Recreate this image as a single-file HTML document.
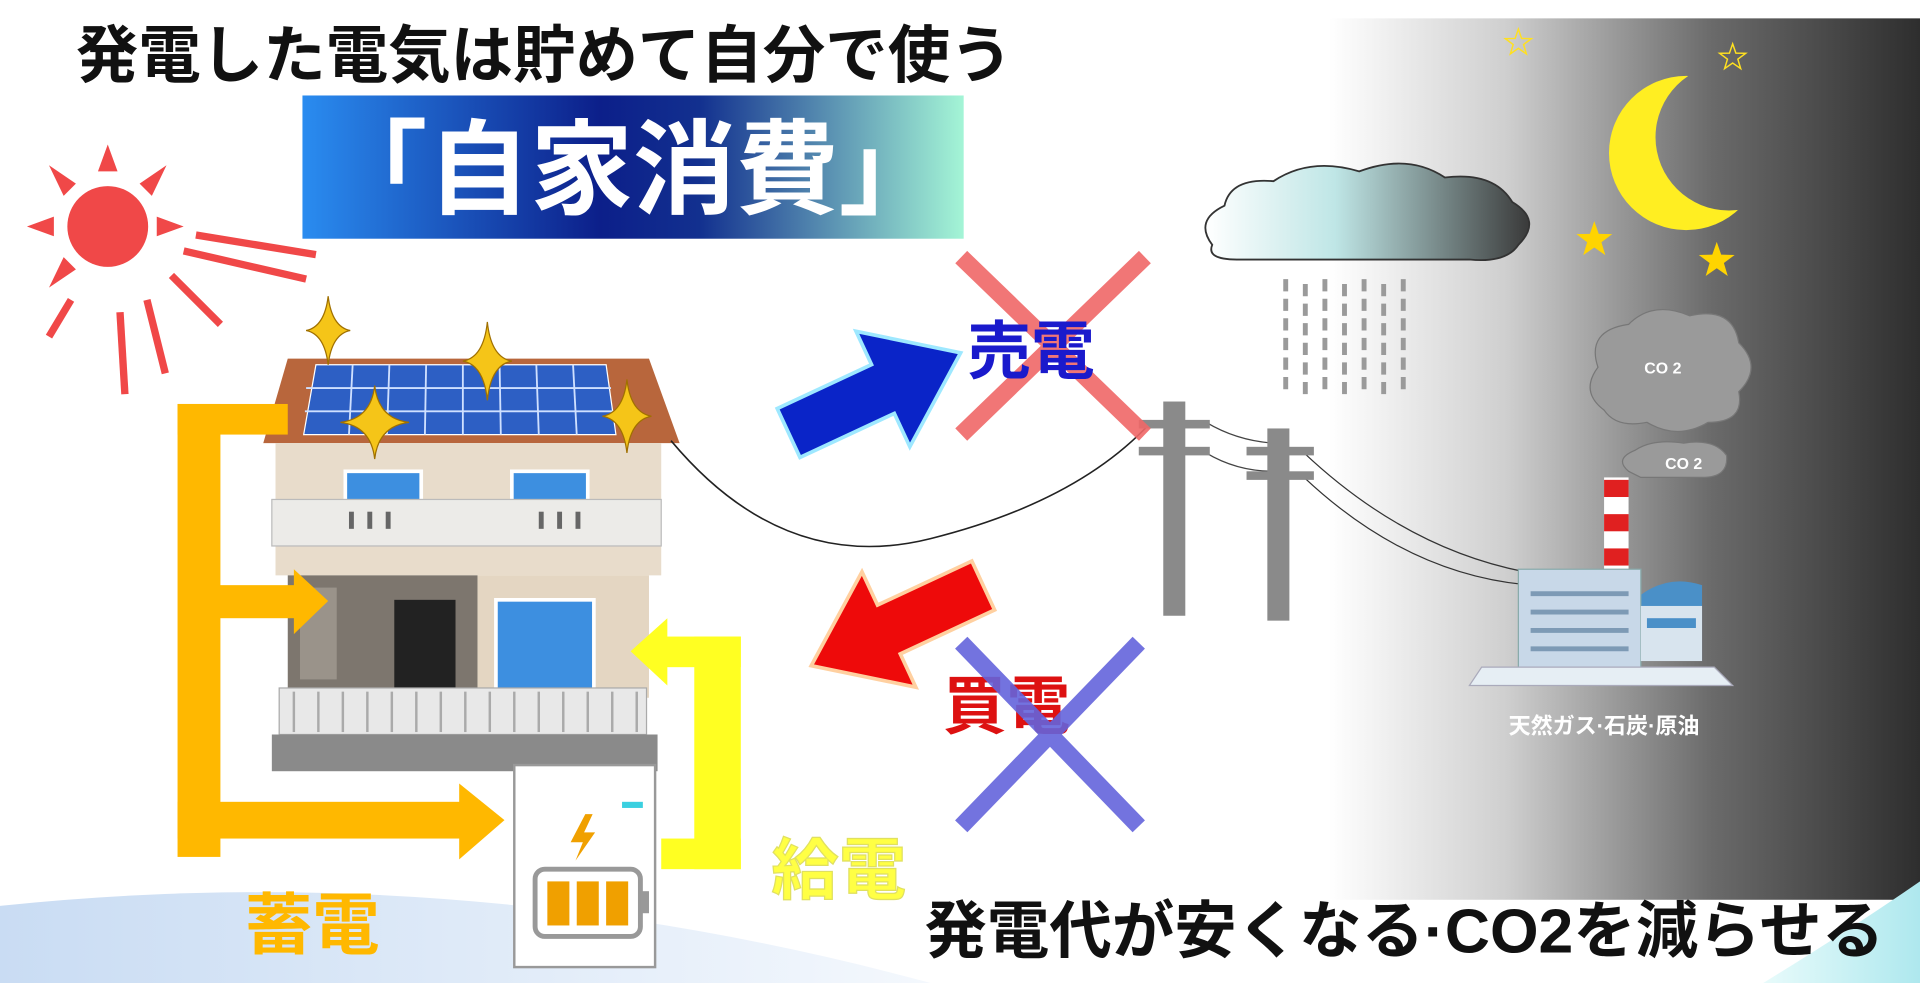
<!DOCTYPE html>
<html><head><meta charset="utf-8"><style>
html,body{margin:0;padding:0;background:#fff;width:1920px;height:983px;overflow:hidden}
svg{display:block}
text{font-family:"Liberation Sans","Noto Sans CJK JP",sans-serif;font-weight:bold}
</style></head><body>
<svg width="1920" height="983" viewBox="0 0 1568 803" preserveAspectRatio="none">
<defs>
<linearGradient id="night" x1="0" x2="1" y1="0" y2="0">
<stop offset="0" stop-color="#fff"/><stop offset="0.3" stop-color="#cfcfcf"/><stop offset="0.65" stop-color="#6a6a6a"/><stop offset="1" stop-color="#2e2e2e"/></linearGradient>
<linearGradient id="ban" x1="0" x2="1"><stop offset="0" stop-color="#2a8cf0"/><stop offset="0.45" stop-color="#0c1f8a"/><stop offset="0.6" stop-color="#12308f"/><stop offset="1" stop-color="#a4f5d6"/></linearGradient>
<linearGradient id="cloud" x1="0" x2="1"><stop offset="0" stop-color="#fff"/><stop offset="0.4" stop-color="#bfe6e6"/><stop offset="1" stop-color="#3a3a3a"/></linearGradient>
<linearGradient id="wave" x1="0" x2="1"><stop offset="0" stop-color="#c9dcf3"/><stop offset="1" stop-color="#f4f8fd"/></linearGradient>
<linearGradient id="wave2" x1="0" x2="1"><stop offset="0" stop-color="#e8fbfb"/><stop offset="1" stop-color="#aee8ee"/></linearGradient>
<mask id="moonm"><rect x="1280" y="40" width="200" height="180" fill="#fff"/><circle cx="1412" cy="112" r="60" fill="#000"/></mask>
</defs>
<rect x="1085" y="15" width="483" height="720" fill="url(#night)"/>
<path d="M0,740 Q380,700 760,803 L0,803Z" fill="url(#wave)"/>
<path d="M1440,803 Q1510,760 1568,720 L1568,803Z" fill="url(#wave2)"/>

<text x="62" y="63" font-size="51" fill="#111">発電した電気は貯めて自分で使う</text>
<rect x="247" y="78" width="540" height="117" fill="url(#ban)"/>
<text x="517" y="168" font-size="84" fill="#fff" text-anchor="middle">「自家消費」</text>

<!-- sun -->
<g stroke="#f04848" stroke-width="6" fill="#f04848">
<line x1="160" y1="192" x2="258" y2="208"/><line x1="150" y1="205" x2="250" y2="228"/>
<line x1="140" y1="225" x2="180" y2="265"/><line x1="120" y1="245" x2="135" y2="305"/>
<line x1="98" y1="255" x2="102" y2="322"/><line x1="58" y1="245" x2="40" y2="275"/>
</g>
<circle cx="88" cy="185" r="33" fill="#f04848"/>
<g fill="#f04848">
<polygon points="88,118 80,140 96,140"/><polygon points="22,185 44,177 44,193"/>
<polygon points="40,135 62,150 52,160"/><polygon points="136,135 114,150 124,160"/>
<polygon points="40,235 62,220 52,210"/><polygon points="150,185 128,177 128,193"/>
</g>

<!-- house -->
<polygon points="235,293 530,293 555,362 215,362" fill="#b8663c"/>
<polygon points="258,298 495,298 503,355 248,355" fill="#2d5fc4" stroke="#fff" stroke-width="1"/>
<g stroke="#cfe0ff" stroke-width="1.5">
<line x1="250" y1="317" x2="499" y2="317"/><line x1="249" y1="336" x2="501" y2="336"/>
<line x1="288" y1="298" x2="285" y2="355"/><line x1="318" y1="298" x2="316" y2="355"/><line x1="348" y1="298" x2="347" y2="355"/><line x1="378" y1="298" x2="378" y2="355"/><line x1="408" y1="298" x2="409" y2="355"/><line x1="438" y1="298" x2="440" y2="355"/><line x1="468" y1="298" x2="471" y2="355"/>
</g>
<rect x="225" y="362" width="315" height="108" fill="#e8dccb"/>
<rect x="282" y="385" width="62" height="25" fill="#3d8fe0" stroke="#fff" stroke-width="3"/>
<rect x="418" y="385" width="62" height="25" fill="#3d8fe0" stroke="#fff" stroke-width="3"/>
<rect x="222" y="408" width="318" height="38" fill="#ecebe8" stroke="#bbb"/>
<g fill="#666"><rect x="285" y="418" width="4" height="14"/><rect x="300" y="418" width="4" height="14"/><rect x="315" y="418" width="4" height="14"/><rect x="440" y="418" width="4" height="14"/><rect x="455" y="418" width="4" height="14"/><rect x="470" y="418" width="4" height="14"/></g>
<rect x="235" y="470" width="155" height="100" fill="#7d766e"/>
<rect x="390" y="470" width="140" height="100" fill="#e4d6c2"/>
<rect x="322" y="490" width="50" height="80" fill="#222"/>
<rect x="405" y="490" width="80" height="78" fill="#3d8fe0" stroke="#fff" stroke-width="3"/>
<rect x="245" y="480" width="30" height="75" fill="#9a938a"/>
<rect x="228" y="562" width="300" height="38" fill="#e8e8e8" stroke="#aaa"/>
<g stroke="#aaa" stroke-width="2"><line x1="240" y1="565" x2="240" y2="598"/><line x1="260" y1="565" x2="260" y2="598"/><line x1="280" y1="565" x2="280" y2="598"/><line x1="300" y1="565" x2="300" y2="598"/><line x1="320" y1="565" x2="320" y2="598"/><line x1="340" y1="565" x2="340" y2="598"/><line x1="360" y1="565" x2="360" y2="598"/><line x1="380" y1="565" x2="380" y2="598"/><line x1="400" y1="565" x2="400" y2="598"/><line x1="420" y1="565" x2="420" y2="598"/><line x1="440" y1="565" x2="440" y2="598"/><line x1="460" y1="565" x2="460" y2="598"/><line x1="480" y1="565" x2="480" y2="598"/><line x1="500" y1="565" x2="500" y2="598"/><line x1="520" y1="565" x2="520" y2="598"/></g>
<rect x="222" y="600" width="315" height="30" fill="#8a8a8a"/>

<!-- sparkles -->
<g fill="#f5c518" stroke="#a07000" stroke-width="1">
<path transform="translate(268,270)" d="M0,-28 Q3,-3 18,0 Q3,3 0,28 Q-3,3 -18,0 Q-3,-3 0,-28Z"/>
<path transform="translate(398,295)" d="M0,-32 Q3,-3 20,0 Q3,3 0,32 Q-3,3 -20,0 Q-3,-3 0,-32Z"/>
<path transform="translate(306,345)" d="M0,-30 Q3,-3 28,0 Q3,3 0,30 Q-3,3 -28,0 Q-3,-3 0,-30Z"/>
<path transform="translate(512,340)" d="M0,-30 Q3,-3 20,0 Q3,3 0,30 Q-3,3 -20,0 Q-3,-3 0,-30Z"/>
</g>

<!-- orange arrows -->
<g fill="#ffb800">
<rect x="145" y="330" width="35" height="370"/>
<rect x="145" y="330" width="90" height="25"/>
<rect x="175" y="478" width="68" height="27"/><polygon points="240,465 268,491 240,518"/>
<rect x="145" y="655" width="232" height="30"/><polygon points="375,640 412,670 375,702"/>
</g>
<!-- battery -->
<rect x="420" y="625" width="115" height="165" fill="#fff" stroke="#999" stroke-width="2"/>
<rect x="508" y="655" width="17" height="5" fill="#3ad0e0"/>
<polygon points="478,665 466,688 476,688 470,703 486,680 477,680 484,665" fill="#f0a000"/>
<rect x="437" y="710" width="86" height="55" rx="8" fill="#fff" stroke="#999" stroke-width="4"/>
<rect x="523" y="728" width="7" height="18" fill="#999"/>
<rect x="447" y="720" width="18" height="36" fill="#f0a000"/><rect x="471" y="720" width="18" height="36" fill="#f0a000"/><rect x="495" y="720" width="18" height="36" fill="#f0a000"/>
<!-- yellow arrow -->
<g fill="#ffff22">
<rect x="567" y="520" width="38" height="190"/><rect x="540" y="685" width="65" height="25"/>
<rect x="543" y="520" width="62" height="25"/><polygon points="545,505 515,532 545,560"/>
</g>
<text x="200" y="775" font-size="55" fill="#ffb800">蓄電</text>
<text x="630" y="730" font-size="55" fill="#ffff44" stroke="#e0e060" stroke-width="1">給電</text>

<!-- wires -->
<path d="M548,360 Q640,470 760,440 Q880,410 940,345" stroke="#222" stroke-width="1.3" fill="none"/>
<path d="M985,345 Q1010,360 1040,362" stroke="#444" fill="none"/>
<path d="M985,370 Q1010,385 1040,385" stroke="#444" fill="none"/>
<path d="M1065,370 Q1150,450 1250,468" stroke="#333" fill="none"/>
<path d="M1065,390 Q1150,470 1250,478" stroke="#333" fill="none"/>
<!-- poles -->
<g fill="#8a8a8a">
<rect x="950" y="328" width="18" height="175"/><rect x="930" y="343" width="58" height="7"/><rect x="930" y="365" width="58" height="7"/>
<rect x="1035" y="350" width="18" height="157"/><rect x="1018" y="365" width="55" height="7"/><rect x="1018" y="385" width="55" height="7"/>
</g>

<!-- arrows -->
<g transform="translate(712,322) rotate(-25)"><polygon points="-75,-22 10,-22 10,-52 80,0 10,52 10,22 -75,22" fill="#0a24c8" stroke="#9ee8ff" stroke-width="3"/></g>
<g transform="translate(735,510) rotate(155)"><polygon points="-75,-22 10,-22 10,-52 80,0 10,52 10,22 -75,22" fill="#ee0a0a" stroke="#ffd0a0" stroke-width="3"/></g>

<g stroke="#f06868" stroke-width="14" opacity="0.9"><line x1="785" y1="210" x2="935" y2="355"/><line x1="935" y1="210" x2="785" y2="355"/></g>
<text x="790" y="305" font-size="52" fill="#1a1acc">売電</text>
<text x="770" y="595" font-size="52" fill="#dd1111">買電</text>
<g stroke="#6464dc" stroke-width="14" opacity="0.9"><line x1="785" y1="525" x2="930" y2="675"/><line x1="930" y1="525" x2="785" y2="675"/></g>

<!-- cloud & rain -->
<path d="M990,200 Q975,180 1000,168 Q1005,145 1040,148 Q1070,128 1110,140 Q1150,125 1180,145 Q1220,140 1235,165 Q1260,180 1240,200 Q1230,215 1200,212 L1010,212 Q985,212 990,200Z" fill="url(#cloud)" stroke="#333" stroke-width="1.5"/>
<g stroke="#9a9a9a" stroke-width="4" stroke-dasharray="10,6">
<line x1="1050" y1="228" x2="1050" y2="320"/><line x1="1066" y1="232" x2="1066" y2="325"/><line x1="1082" y1="228" x2="1082" y2="320"/><line x1="1098" y1="232" x2="1098" y2="325"/><line x1="1114" y1="228" x2="1114" y2="320"/><line x1="1130" y1="232" x2="1130" y2="325"/><line x1="1146" y1="228" x2="1146" y2="320"/>
</g>

<!-- moon & stars -->
<circle cx="1377" cy="125" r="63" fill="#ffee22" mask="url(#moonm)"/>
<g fill="none" stroke="#ffe020" stroke-width="1.5">
<polygon transform="translate(1240,35) scale(0.8)" points="0,-14 3.3,-4.5 13.3,-4.3 5.3,1.7 8.2,11.3 0,5.6 -8.2,11.3 -5.3,1.7 -13.3,-4.3 -3.3,-4.5"/>
<polygon transform="translate(1415,47) scale(0.8)" points="0,-14 3.3,-4.5 13.3,-4.3 5.3,1.7 8.2,11.3 0,5.6 -8.2,11.3 -5.3,1.7 -13.3,-4.3 -3.3,-4.5"/>
</g>
<g fill="#ffd400">
<polygon transform="translate(1302,196) scale(1.1)" points="0,-14 3.3,-4.5 13.3,-4.3 5.3,1.7 8.2,11.3 0,5.6 -8.2,11.3 -5.3,1.7 -13.3,-4.3 -3.3,-4.5"/>
<polygon transform="translate(1402,213) scale(1.1)" points="0,-14 3.3,-4.5 13.3,-4.3 5.3,1.7 8.2,11.3 0,5.6 -8.2,11.3 -5.3,1.7 -13.3,-4.3 -3.3,-4.5"/>
</g>

<!-- CO2 clouds -->
<path d="M1310,335 Q1290,320 1305,300 Q1295,270 1330,265 Q1350,245 1380,258 Q1415,250 1420,280 Q1440,300 1420,320 Q1425,345 1395,345 Q1370,360 1345,345 Q1320,350 1310,335Z" fill="#9a9a9a" stroke="#777"/>
<text x="1358" y="305" font-size="13" fill="#fff" text-anchor="middle">CO 2</text>
<path d="M1330,385 Q1318,375 1335,368 Q1350,358 1375,362 Q1400,358 1410,372 Q1412,390 1390,390 L1340,390Z" fill="#9a9a9a" stroke="#777"/>
<text x="1375" y="383" font-size="13" fill="#fff" text-anchor="middle">CO 2</text>

<!-- factory -->
<g>
<rect x="1310" y="390" width="20" height="100" fill="#fff"/>
<rect x="1310" y="392" width="20" height="14" fill="#e02020"/><rect x="1310" y="420" width="20" height="14" fill="#e02020"/><rect x="1310" y="448" width="20" height="14" fill="#e02020"/>
<path d="M1335,540 L1335,490 Q1360,468 1390,478 L1390,540Z" fill="#4a90c8"/>
<rect x="1240" y="465" width="100" height="80" fill="#c8d8e8" stroke="#8aa"/>
<g stroke="#7d9ab5" stroke-width="4"><line x1="1250" y1="485" x2="1330" y2="485"/><line x1="1250" y1="500" x2="1330" y2="500"/><line x1="1250" y1="515" x2="1330" y2="515"/><line x1="1250" y1="530" x2="1330" y2="530"/></g>
<rect x="1340" y="495" width="50" height="45" fill="#d8e4ee"/>
<rect x="1345" y="505" width="40" height="8" fill="#4a90c8"/>
<polygon points="1210,545 1400,545 1415,560 1200,560" fill="#e6eef4" stroke="#aab"/>
</g>
<text x="1232" y="599" font-size="18" fill="#fff">天然ガス·石炭·原油</text>

<text x="755" y="778" font-size="51" fill="#111">発電代が安くなる·CO2を減らせる</text>
</svg>
</body></html>
